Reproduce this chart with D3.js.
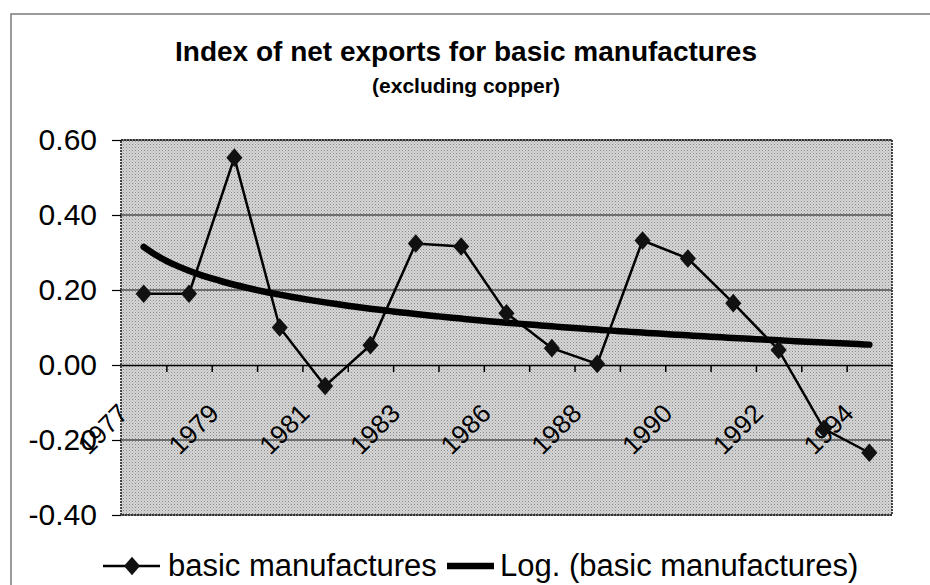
<!DOCTYPE html>
<html lang="en">
<head>
<meta charset="UTF-8">
<title>Index of net exports for basic manufactures</title>
<script src="https://cdn.jsdelivr.net/npm/d3@7/dist/d3.min.js"></script>
<style>
  body { margin: 0; background: #fff; }
  svg text { font-family: "Liberation Sans", Arial, sans-serif; fill: #000; }
  .yaxis path { display: none; }
  .yaxis line { stroke: #000; stroke-width: 1.2px; }
  .yaxis text { font-size: 30px; }
  .xaxis path { stroke: #000; stroke-width: 1.5px; }
  .xaxis line { stroke: #000; stroke-width: 1.5px; }
  .xlabel { font-size: 26px; }
  .grid line { stroke: #111; stroke-width: 1.2px; }
  .legend text { font-size: 31px; }
</style>
</head>
<body>
<svg id="chart" width="930" height="585"></svg>
<script>
  // values
  var years = ["1977","1978","1979","1980","1981","1982","1983","1985","1986",
               "1987","1988","1989","1990","1991","1992","1993","1994"];
  var values = [0.19, 0.19, 0.553, 0.10, -0.056, 0.053, 0.324, 0.316, 0.138,
                0.045, 0.003, 0.332, 0.284, 0.165, 0.04, -0.17, -0.234];
  var labelYears = ["1977","1979","1981","1983","1986","1988","1990","1992","1994"];
  var yTicks = [-0.4, -0.2, 0, 0.2, 0.4, 0.6];
  var seriesName = "basic manufactures";
  var trendName = "Log. (basic manufactures)";

  var plotL = 121, plotR = 892, plotT = 140, plotB = 515;

  var svg = d3.select("#chart");

  // halftone fill of the plot area
  var defs = svg.append("defs");
  var pat = defs.append("pattern")
      .attr("id", "dots")
      .attr("width", 3).attr("height", 3)
      .attr("patternUnits", "userSpaceOnUse");
  pat.append("rect").attr("width", 3).attr("height", 3).attr("fill", "#d6d6d6");
  pat.append("rect").attr("x", 0).attr("y", 0).attr("width", 1).attr("height", 1).attr("fill", "#8a8a8a");
  pat.append("rect").attr("x", 1.5).attr("y", 1.5).attr("width", 1).attr("height", 1).attr("fill", "#a5a5a5");

  // outer chart frame (runs off the right and bottom edges)
  svg.append("rect")
      .attr("x", 11).attr("y", 14)
      .attr("width", 960).attr("height", 620)
      .attr("fill", "none").attr("stroke", "#7a7a7a").attr("stroke-width", 1.5);

  var x = d3.scaleBand().domain(years).range([plotL, plotR]);
  var xi = d3.scaleLinear().domain([0, years.length]).range([plotL, plotR]);
  var y = d3.scaleLinear().domain([-0.4, 0.6]).range([plotB, plotT]);

  svg.append("rect")
      .attr("x", plotL).attr("y", plotT)
      .attr("width", plotR - plotL).attr("height", plotB - plotT)
      .attr("fill", "url(#dots)");

  // gridlines
  svg.append("g").attr("class", "grid")
    .selectAll("line")
    .data(yTicks.filter(function(d){ return d !== 0; }))
    .enter().append("line")
      .attr("x1", plotL).attr("x2", plotR)
      .attr("y1", function(d){ return y(d); })
      .attr("y2", function(d){ return y(d); });

  svg.append("rect")
      .attr("x", plotL).attr("y", plotT)
      .attr("width", plotR - plotL).attr("height", plotB - plotT)
      .attr("fill", "none").attr("stroke", "#333").attr("stroke-width", 1.8)
      .attr("stroke-dasharray", "2,1");

  // y axis
  svg.append("g")
      .attr("class", "yaxis")
      .attr("transform", "translate(" + plotL + ",0)")
      .call(d3.axisLeft(y).tickValues(yTicks).tickSize(9).tickPadding(15)
        .tickFormat(function(d){ return d.toFixed(2); }));

  // x axis at zero, ticks between categories
  svg.append("g")
      .attr("class", "xaxis")
      .attr("transform", "translate(0," + y(0) + ")")
      .call(d3.axisBottom(xi).tickValues(d3.range(1, years.length)).tickSize(7)
        .tickSizeOuter(0).tickFormat(""));

  svg.append("g").selectAll("text")
    .data(labelYears)
    .enter().append("text")
      .attr("class", "xlabel")
      .attr("text-anchor", "end")
      .attr("transform", function(d){
        return "translate(" + (x(d) + x.bandwidth() / 2 - 14) + "," + (y(0) + 50) + ") rotate(-45)";
      })
      .text(function(d){ return d; });

  // log trendline fitted to the series, as the spreadsheet does
  var lx = values.map(function(v, i){ return Math.log(i + 1); });
  var mx = d3.mean(lx), my = d3.mean(values);
  var sxy = d3.sum(lx, function(v, i){ return (v - mx) * (values[i] - my); });
  var sxx = d3.sum(lx, function(v){ return (v - mx) * (v - mx); });
  var slope = sxy / sxx, icpt = my - slope * mx;

  var trendX = d3.range(1, years.length + 0.001, 0.25);
  var trendLine = d3.line()
      .x(function(t){ return xi(t - 0.5); })
      .y(function(t){ return y(icpt + slope * Math.log(t)); })
      .curve(d3.curveMonotoneX);

  svg.append("path")
      .datum(trendX)
      .attr("d", trendLine)
      .attr("fill", "none").attr("stroke", "#000")
      .attr("stroke-width", 6.5).attr("stroke-linecap", "round");

  // the series
  var line = d3.line()
      .x(function(d, i){ return x(years[i]) + x.bandwidth() / 2; })
      .y(function(d){ return y(d); });

  svg.append("path")
      .datum(values)
      .attr("d", line)
      .attr("fill", "none").attr("stroke", "#000").attr("stroke-width", 2.5);

  var diamond = d3.symbol().type(d3.symbolDiamond).size(100);
  svg.append("g").selectAll("path")
    .data(values)
    .enter().append("path")
      .attr("d", diamond)
      .attr("transform", function(d, i){
        return "translate(" + (x(years[i]) + x.bandwidth() / 2) + "," + y(d) + ") scale(1.5,1)";
      })
      .attr("fill", "#111");

  // titles
  svg.append("text")
      .attr("x", 466).attr("y", 61)
      .attr("text-anchor", "middle")
      .style("font-size", "28px").style("font-weight", "bold")
      .text("Index of net exports for basic manufactures");
  svg.append("text")
      .attr("x", 466).attr("y", 93)
      .attr("text-anchor", "middle")
      .style("font-size", "21px").style("font-weight", "bold")
      .text("(excluding copper)");

  // legend
  var legend = svg.append("g").attr("class", "legend");
  legend.append("line")
      .attr("x1", 103).attr("x2", 160).attr("y1", 566).attr("y2", 566)
      .attr("stroke", "#000").attr("stroke-width", 2.5);
  legend.append("path")
      .attr("d", diamond)
      .attr("transform", "translate(132,566) scale(1.5,1)")
      .attr("fill", "#111");
  legend.append("text").attr("x", 168).attr("y", 576).text(seriesName);
  legend.append("line")
      .attr("x1", 447).attr("x2", 494).attr("y1", 566).attr("y2", 566)
      .attr("stroke", "#000").attr("stroke-width", 6.5);
  legend.append("text").attr("x", 500).attr("y", 576).text(trendName);
</script>
</body>
</html>
